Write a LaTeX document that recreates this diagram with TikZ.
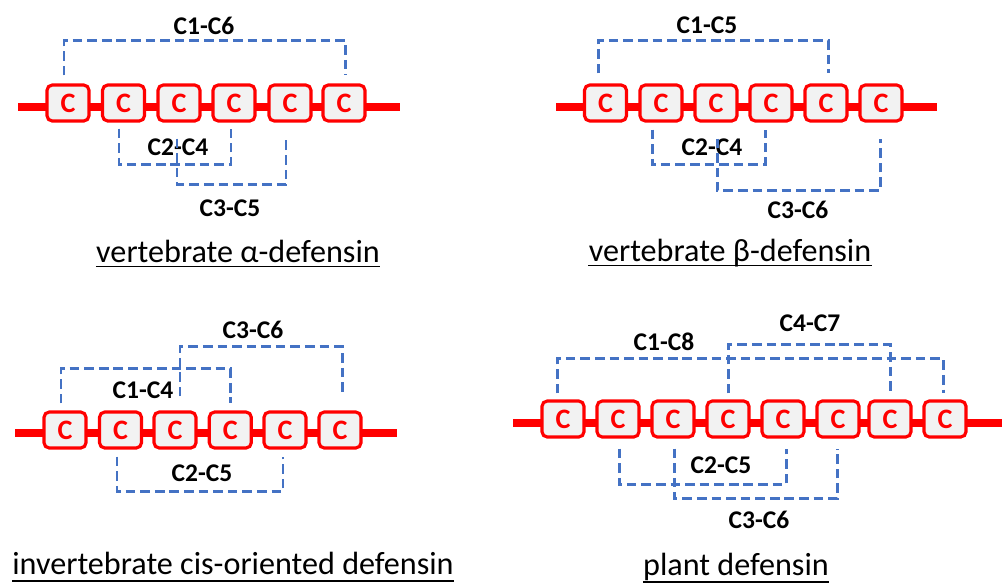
\documentclass[tikz,border=0pt]{standalone}
\usepackage{fontspec}
\setmainfont{Carlito}
\definecolor{boxgray}{HTML}{F2F2F2}
\definecolor{bondblue}{HTML}{4472C4}
\begin{document}
\begin{tikzpicture}[x=0.02cm,y=-0.02cm,
  cys/.style={draw=red, line width=1.8pt, fill=boxgray, rounded corners=3pt,
    minimum width=0.84cm, minimum height=0.72cm, inner sep=0pt,
    font=\fontsize{16}{18}\selectfont\bfseries, text=red},
  backbone/.style={red, line width=4.8pt},
  bond/.style={bondblue, line width=1.7pt, dash pattern=on 5.5pt off 2.8pt},
  lbl/.style={font=\fontsize{14.5}{16}\selectfont\bfseries},
  ttl/.style={font=\fontsize{18.3}{20}\selectfont, anchor=base, inner sep=0pt},
  uline/.style={line width=0.8pt}
]
\useasboundingbox (0,0) rectangle (1006,583);

% ---------- Panel 1: vertebrate alpha-defensin ----------
\coordinate (p1L) at (18,107);
\coordinate (p1R) at (400,107);
\draw[backbone] (p1L) -- (p1R);
\foreach \i/\x in {1/68,2/123.5,3/179,4/234,5/290,6/344}
  \node[cys] (a\i) at (\x,103) {C};
\node[lbl] (la1) at (204,26) {C1-C6};
\node[lbl] (la2) at (178,147) {C2-C4};
\node[lbl] (la3) at (230,208) {C3-C5};
\draw[bond] ([shift={(-4,-8)}]a1.north) -- ++(0,-35) -| ([shift={(1,-8)}]a6.north);
\draw[bond] ([shift={(-4.5,6)}]a2.south) -- ++(0,36) -| ([shift={(-3,6)}]a4.south);
\draw[bond] ([shift={(-2,16)}]a3.south) -- ++(0,46) -| ([shift={(-4,16)}]a5.south);
\node[ttl] (t1) at (238,262) {vertebrate α-defensin};
\draw[uline] ([yshift=-2.5pt]t1.base west) -- ([yshift=-2.5pt]t1.base east);

% ---------- Panel 2: vertebrate beta-defensin ----------
\coordinate (p2L) at (556,107);
\coordinate (p2R) at (937,107);
\draw[backbone] (p2L) -- (p2R);
\foreach \i/\x in {1/605.5,2/661,3/716,4/771,5/826,6/881}
  \node[cys] (b\i) at (\x,103) {C};
\node[lbl] (lb1) at (707,25) {C1-C5};
\node[lbl] (lb2) at (712,147) {C2-C4};
\node[lbl] (lb3) at (798,210) {C3-C6};
\draw[bond] ([shift={(-7.5,-10)}]b1.north) -- ++(0,-33) -| ([shift={(2,-10)}]b5.north);
\draw[bond] ([shift={(-9,7)}]b2.south) -- ++(0,35) -| ([shift={(-6,7)}]b4.south);
\draw[bond] ([shift={(1,16)}]b3.south) -- ++(0,52) -| ([shift={(-1,16)}]b6.south);
\node[ttl] (t2) at (730,261) {vertebrate β-defensin};
\draw[uline] ([yshift=-2.5pt]t2.base west) -- ([yshift=-2.5pt]t2.base east);

% ---------- Panel 3: invertebrate cis-oriented defensin ----------
\coordinate (p3L) at (15,433);
\coordinate (p3R) at (397,433);
\draw[backbone] (p3L) -- (p3R);
\foreach \i/\x in {1/65,2/120.5,3/175,4/230.3,5/285,6/340}
  \node[cys] (c\i) at (\x,430) {C};
\node[lbl] (lc1) at (253,330) {C3-C6};
\node[lbl] (lc2) at (143,390) {C1-C4};
\node[lbl] (lc3) at (202,473) {C2-C5};
\draw[bond] ([shift={(-4,-7)}]c1.north) -- ++(0,-35) -| ([shift={(0,-7)}]c4.north);
\draw[bond] ([shift={(5,-14)}]c3.north) -- ++(0,-50) -| ([shift={(2,-14)}]c6.north);
\draw[bond] ([shift={(-3.5,7)}]c2.south) -- ++(0,35) -| ([shift={(-2,7)}]c5.south);
\node[ttl] (t3) at (233,574) {invertebrate cis-oriented defensin};
\draw[uline] ([yshift=-4pt]t3.base west) -- ([yshift=-4pt]t3.base east);

% ---------- Panel 4: plant defensin ----------
\coordinate (p4L) at (513,423);
\coordinate (p4R) at (1002,423);
\draw[backbone] (p4L) -- (p4R);
\foreach \i/\x in {1/563,2/618,3/673,4/728,5/783,6/838,7/890,8/945}
  \node[cys] (d\i) at (\x,419) {C};
\node[lbl] (ld1) at (810,323) {C4-C7};
\node[lbl] (ld2) at (664,342) {C1-C8};
\node[lbl] (ld3) at (721,465) {C2-C5};
\node[lbl] (ld4) at (759,520) {C3-C6};
\draw[bond] ([shift={(-6,-6)}]d1.north) -- ++(0,-35) -| ([shift={(-2,-6)}]d8.north);
\draw[bond] ([shift={(0,-6)}]d4.north) -- ++(0,-49) -| ([shift={(0,-6)}]d7.north);
\draw[bond] ([shift={(1,10)}]d2.south) -- ++(0,36) -| ([shift={(3,10)}]d5.south);
\draw[bond] ([shift={(1,10)}]d3.south) -- ++(0,50) -| ([shift={(-1,10)}]d6.south);
\node[ttl] (t4) at (736,575) {plant defensin};
\draw[uline] ([yshift=-4pt]t4.base west) -- ([yshift=-4pt]t4.base east);
\end{tikzpicture}
\end{document}
